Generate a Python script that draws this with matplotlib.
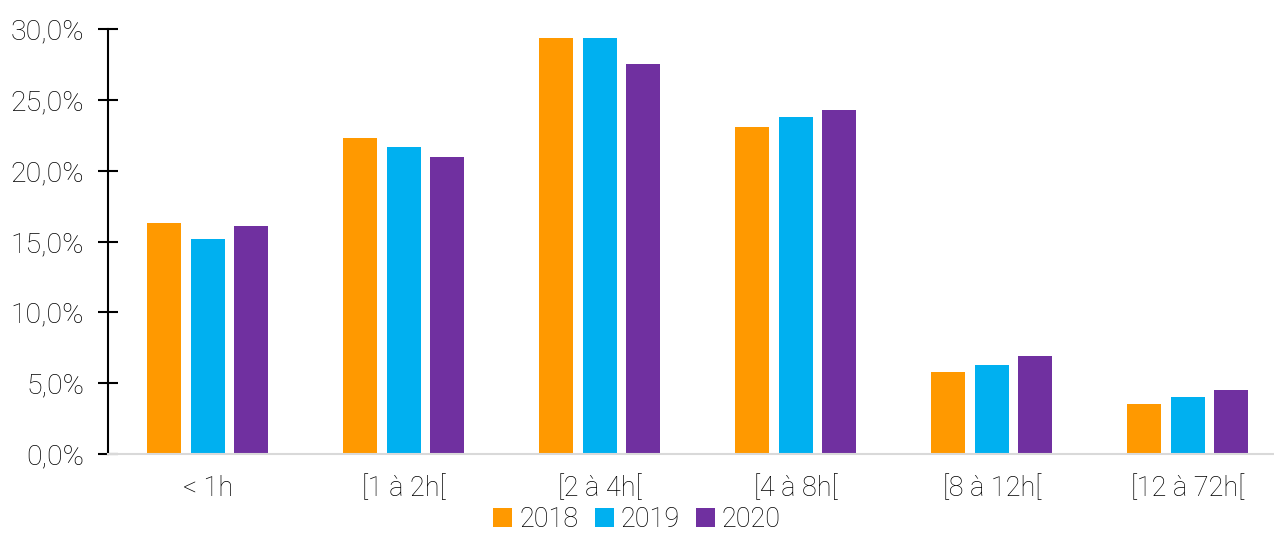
import numpy as np
import matplotlib.pyplot as plt
from matplotlib.ticker import FuncFormatter
from matplotlib import font_manager

categories = ['< 1h', '[1 à 2h[', '[2 à 4h[', '[4 à 8h[', '[8 à 12h[', '[12 à 72h[']
years = ['2018', '2019', '2020']
v2018 = [16.3, 22.3, 29.4, 23.1, 5.8, 3.5]
v2019 = [15.2, 21.7, 29.4, 23.8, 6.3, 4.0]
v2020 = [16.1, 21.0, 27.5, 24.3, 6.9, 4.5]
colors = ['#FF9900', '#00B0F0', '#7030A0']

names = {f.name for f in font_manager.fontManager.ttflist}
plt.rcParams['font.family'] = ['Roboto', 'DejaVu Sans'] if 'Roboto' in names else ['DejaVu Sans']
plt.rcParams['font.weight'] = 'light'

fig = plt.figure(figsize=(12.74, 5.33), dpi=100)
ax = fig.add_axes([108 / 1274, 1 - 454 / 533, 1 - 108 / 1274, (454 - 29) / 533])

x = np.arange(len(categories))
width = 0.173
step = 0.222
for i, (vals, lab) in enumerate(zip([v2018, v2019, v2020], years)):
    ax.bar(x + (i - 1) * step, vals, width, color=colors[i], label=lab, zorder=2)

ax.set_ylim(0, 30)
ax.set_xlim(-0.51, 5.44)
ax.set_yticks(np.arange(0, 31, 5))
ax.yaxis.set_major_formatter(FuncFormatter(lambda v, p: f'{v:.1f}%'.replace('.', ',')))
ax.set_xticks(x)
ax.set_xticklabels(categories)

for s in ['top', 'right']:
    ax.spines[s].set_visible(False)
ax.spines['left'].set_color('black')
ax.spines['left'].set_linewidth(1.5)
ax.spines['bottom'].set_color('#D9D9D9')
ax.spines['bottom'].set_linewidth(1.5)

ax.tick_params(axis='y', direction='inout', length=14, width=1.5, pad=10, labelsize=20.5, colors='black')
ax.tick_params(axis='x', length=0, pad=15, labelsize=19.5, colors='black')

fig.legend(loc='lower center', bbox_to_anchor=(0.5, -0.045), ncol=3, frameon=False,
           fontsize=19.5, handlelength=0.7, handleheight=0.7, handletextpad=0.25,
           columnspacing=0.6)

fig.savefig('out.png', dpi=100)
